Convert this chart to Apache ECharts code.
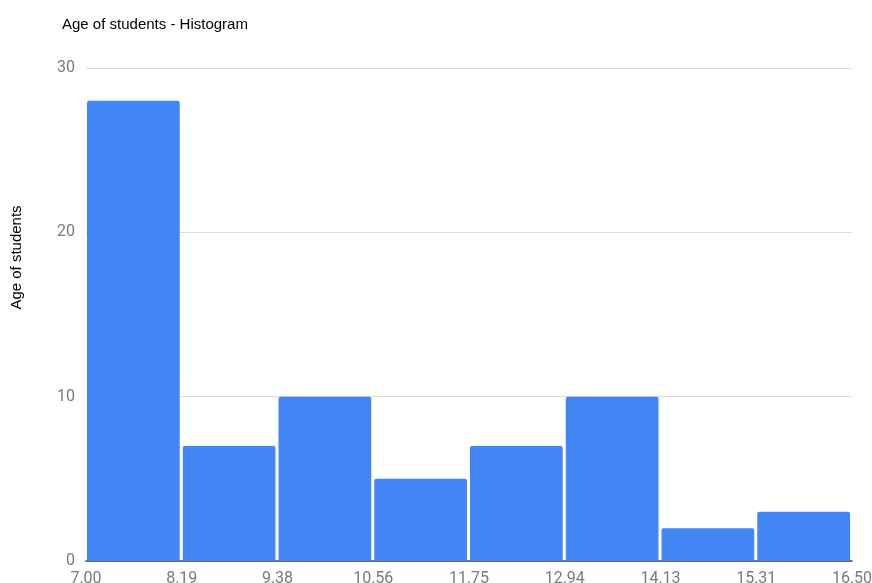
<!DOCTYPE html>
<html>
<head>
<meta charset="utf-8">
<script src="https://cdn.jsdelivr.net/npm/echarts@6/dist/echarts.min.js"></script>
<style>
  html, body { margin: 0; padding: 0; background: #fff; }
  #chart { width: 872px; height: 583px; }
</style>
</head>
<body>
<div id="chart"></div>
<script>
// Bin edges (age) and the number of students in each bin
const binEdges = ['7.00', '8.19', '9.38', '10.56', '11.75', '12.94', '14.13', '15.31', '16.50'];
const binCounts = [28, 7, 10, 5, 7, 10, 2, 3];
const yTicks = [0, 10, 20, 30];

const chart = echarts.init(document.getElementById('chart'), null, { renderer: 'canvas' });

const barData = binCounts.map((c, i) => [i, i + 1, c]);

chart.setOption({
  animation: false,
  title: {
    text: 'Age of students - Histogram',
    left: 57,
    top: 12,
    textStyle: { fontFamily: 'Liberation Sans, Arial, sans-serif', fontSize: 15, fontWeight: 'normal', color: '#000' }
  },
  grid: { left: 86, right: 20, top: 68, bottom: 22, containLabel: false, outerBoundsMode: 'none' },
  xAxis: {
    type: 'value',
    min: 0,
    max: binEdges.length - 1,
    interval: 1,
    axisLine: { show: true, lineStyle: { color: '#444', width: 1.5 } },
    axisTick: { show: false },
    splitLine: { show: false },
    axisLabel: {
      margin: 10,
      fontFamily: 'Roboto, sans-serif',
      fontSize: 16,
      color: '#7a7a7a',
      formatter: v => binEdges[Math.round(v)]
    }
  },
  yAxis: {
    type: 'value',
    min: yTicks[0],
    max: yTicks[yTicks.length - 1],
    interval: 10,
    name: 'Age of students',
    nameLocation: 'middle',
    nameRotate: 90,
    nameGap: 62,
    nameTextStyle: { fontFamily: 'Liberation Sans, Arial, sans-serif', fontSize: 15, color: '#000', padding: [0, 0, 0, 114] },
    axisLine: { show: false },
    axisTick: { show: false },
    splitLine: { lineStyle: { color: '#dadada', width: 1 } },
    axisLabel: {
      margin: 11,
      fontFamily: 'Roboto, sans-serif',
      fontSize: 16,
      color: '#7a7a7a'
    }
  },
  series: [{
    type: 'custom',
    data: barData,
    encode: { x: [0, 1], y: 2 },
    renderItem: (params, api) => {
      const p0 = api.coord([api.value(0), 0]);
      const p1 = api.coord([api.value(1), api.value(2)]);
      return {
        type: 'rect',
        shape: { x: p0[0] + 1, y: p1[1], width: p1[0] - p0[0] - 3, height: p0[1] - p1[1], r: [2, 2, 0, 0] },
        style: { fill: '#4285f4' }
      };
    }
  }]
});
</script>
</body>
</html>
